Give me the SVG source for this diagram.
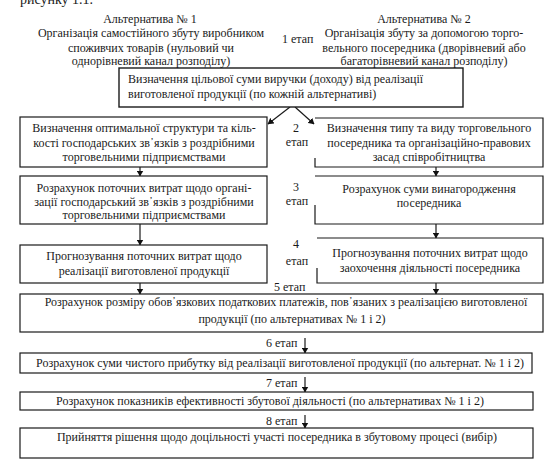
<svg xmlns="http://www.w3.org/2000/svg" width="558" height="461" viewBox="0 0 558 461">
<defs>
<marker id="ah" markerWidth="6" markerHeight="7" refX="5.5" refY="3.5" orient="auto" markerUnits="userSpaceOnUse">
<path d="M0,0 L6,3.5 L0,7 Z" fill="#111"/>
</marker>
</defs>
<style>
.t{font-family:"Liberation Serif","Times New Roman",serif;font-size:12px;fill:#1a1a1a}
.c{text-anchor:middle}
.b{fill:#fff;stroke:#1a1a1a;stroke-width:1.2}
.ln{fill:none;stroke:#1a1a1a;stroke-width:1.2}
.ar{fill:none;stroke:#1a1a1a;stroke-width:1.2;marker-end:url(#ah)}
</style>
<rect width="558" height="461" fill="#fff"/>
<text class="t" x="20" y="4" style="font-size:14px">рисунку 1.1.</text>

<g id="alt1">
<text class="t c" x="150" y="23">Альтернатива № 1</text>
<text class="t c" x="151" y="37">Організація самостійного збуту виробником</text>
<text class="t c" x="151" y="52">споживчих товарів (нульовий чи</text>
<text class="t c" x="151" y="65">однорівневий канал розподілу)</text>
</g>
<g id="alt2">
<text class="t c" x="424" y="23">Альтернатива № 2</text>
<text class="t c" x="424" y="37">Організація збуту за допомогою торго-</text>
<text class="t c" x="424" y="52">вельного посередника (дворівневий або</text>
<text class="t c" x="424" y="65">багаторівневий канал розподілу)</text>
</g>

<g id="stage-labels">
<text class="t" x="282" y="43">1 етап</text>
<text class="t c" x="296" y="132">2</text>
<text class="t c" x="297" y="146">етап</text>
<text class="t c" x="296" y="191">3</text>
<text class="t c" x="297" y="205">етап</text>
<text class="t c" x="296" y="248">4</text>
<text class="t c" x="297" y="265">етап</text>
<text class="t" x="274" y="291">5 етап</text>
<text class="t" x="266" y="347">6 етап</text>
<text class="t" x="266" y="387">7 етап</text>
<text class="t" x="266" y="425">8 етап</text>
</g>

<g id="connectors">
<line class="ar" x1="290" y1="107" x2="268" y2="124"/>
<line class="ar" x1="295" y1="107" x2="314" y2="124"/>
<line class="ar" x1="140" y1="167" x2="140" y2="176"/>
<line class="ar" x1="140" y1="224" x2="140" y2="245"/>
<line class="ar" x1="140" y1="283" x2="140" y2="294"/>
<line class="ar" x1="436" y1="167" x2="436" y2="176"/>
<line class="ar" x1="436" y1="224" x2="436" y2="238"/>
<line class="ar" x1="436" y1="283" x2="436" y2="294"/>
<line class="ar" x1="305" y1="338" x2="305" y2="353"/>
<line class="ar" x1="305" y1="377" x2="305" y2="392"/>
<line class="ar" x1="305" y1="415" x2="305" y2="428"/>
</g>

<g id="s1">
<rect class="b" x="119" y="68" width="344" height="39" style="stroke-width:1.4"/>
<text class="t" x="128" y="83">Визначення цільової суми виручки (доходу) від реалізації</text>
<text class="t" x="128" y="98">виготовленої продукції (по кожній альтернативі)</text>
</g>

<g id="s2-left">
<rect class="b" x="20" y="117" width="247" height="50"/>
<text class="t c" x="144" y="132">Визначення оптимальної структури та кіль-</text>
<text class="t c" x="144" y="147">кості господарських зв᾿язків з роздрібними</text>
<text class="t c" x="144" y="161">торговельними підприємствами</text>
</g>
<g id="s3-left">
<rect class="b" x="20" y="176" width="247" height="48"/>
<text class="t c" x="144" y="192">Розрахунок поточних витрат щодо органі-</text>
<text class="t c" x="144" y="206">зації господарський зв᾿язків з роздрібними</text>
<text class="t c" x="144" y="219">торговельними підприємствами</text>
</g>
<g id="s4-left">
<rect class="b" x="20" y="245" width="247" height="38"/>
<text class="t c" x="144" y="260">Прогнозування поточних витрат щодо</text>
<text class="t c" x="144" y="275">реалізації виготовленої продукції</text>
</g>

<g id="s2-right">
<path class="ln" d="M315,118 H543 V167 H315 V158"/>
<text class="t c" x="429" y="132">Визначення типу та виду торговельного</text>
<text class="t c" x="429" y="147">посередника та організаційно-правових</text>
<text class="t c" x="429" y="161">засад співробітництва</text>
</g>
<g id="s3-right">
<path class="ln" d="M315,176 H543 V224 H315 V205"/>
<text class="t c" x="429" y="193">Розрахунок суми винагородження</text>
<text class="t c" x="429" y="207">посередника</text>
</g>
<g id="s4-right">
<path class="ln" d="M317,238 H543 V283 H317 V268"/>
<text class="t c" x="430" y="257">Прогнозування поточних витрат щодо</text>
<text class="t c" x="430" y="272">заохочення діяльності посередника</text>
</g>

<g id="s5">
<rect class="b" x="20" y="294" width="523" height="38"/>
<text class="t c" x="286" y="306">Розрахунок розміру обов᾿язкових податкових платежів, пов᾿язаних з реалізацією виготовленої</text>
<text class="t c" x="292" y="323">продукції (по альтернативах № 1 і 2)</text>
</g>
<g id="s6">
<rect class="b" x="20" y="353" width="512" height="20"/>
<text class="t c" x="280" y="367">Розрахунок суми чистого прибутку від реалізації виготовленої продукції (по альтернат. № 1 і 2)</text>
</g>
<g id="s7">
<rect class="b" x="20" y="392" width="513" height="18"/>
<text class="t c" x="270" y="405">Розрахунок показників ефективності збутової діяльності (по альтернативах № 1 і 2)</text>
</g>
<g id="s8">
<rect class="b" x="20" y="428" width="513" height="30"/>
<text class="t c" x="277" y="441">Прийняття рішення щодо доцільності участі посередника в збутовому процесі (вибір)</text>
</g>
</svg>
